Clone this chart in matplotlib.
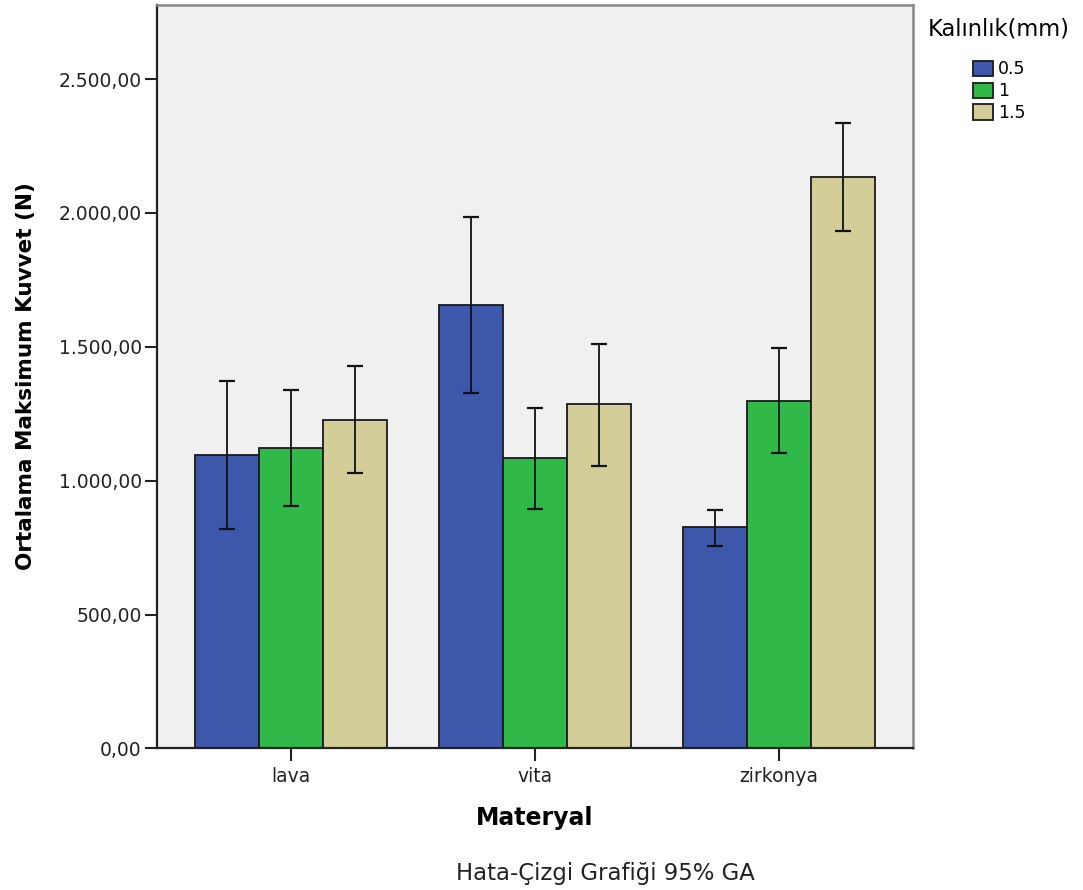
import numpy as np
import matplotlib.pyplot as plt
from matplotlib.ticker import FuncFormatter

# Ortalama maksimum kuvvet (N) ve %95 güven aralıkları
materials = ["lava", "vita", "zirkonya"]
thickness = ["0.5", "1", "1.5"]
means = {
    "0.5": [1096, 1657, 827],
    "1": [1124, 1084, 1299],
    "1.5": [1227, 1286, 2134],
}
ci_low = {
    "0.5": [820, 1328, 756],
    "1": [906, 893, 1103],
    "1.5": [1028, 1055, 1931],
}
ci_high = {
    "0.5": [1372, 1986, 891],
    "1": [1338, 1271, 1496],
    "1.5": [1428, 1511, 2335],
}
colors = {"0.5": "#3d58ab", "1": "#30b848", "1.5": "#d3ce98"}

plt.rcParams['font.family'] = ['DejaVu Sans']

fig = plt.figure(figsize=(10.83, 8.90), dpi=100)
ax = fig.add_axes([0.145, 0.159, 0.698, 0.8358])
ax.set_facecolor("#f0f0f0")

x = np.arange(len(materials))
w = 0.262
for j, t in enumerate(thickness):
    pos = x + (j - 1) * w
    m = np.array(means[t])
    lo = m - np.array(ci_low[t])
    hi = np.array(ci_high[t]) - m
    ax.bar(pos, m, width=w, color=colors[t], edgecolor="#1a1a1a",
           linewidth=1.3, label=t, zorder=2)
    ax.errorbar(pos, m, yerr=[lo, hi], fmt="none", ecolor="#111111",
                elinewidth=1.3, capsize=6, capthick=1.6, zorder=3)

ax.set_xlim(-0.549, 2.549)
ax.set_ylim(0, 2778)
ax.set_yticks(np.arange(0, 2501, 500))
ax.yaxis.set_major_formatter(FuncFormatter(
    lambda v, p: f"{v:,.2f}".replace(",", "X").replace(".", ",").replace("X", ".")))
ax.set_xticks(x)
ax.set_xticklabels(materials)
ax.tick_params(axis="both", direction="out", length=9, width=1.5,
               color="#222222", labelsize=13.5, labelcolor="#222222")
ax.tick_params(axis="y", pad=2)
ax.tick_params(axis="x", pad=4)

for side in ["left", "bottom"]:
    ax.spines[side].set_color("#222222")
    ax.spines[side].set_linewidth(1.6)
for side in ["top", "right"]:
    ax.spines[side].set_color("#888888")
    ax.spines[side].set_linewidth(1.8)

ax.set_ylabel("Ortalama Maksimum Kuvvet (N)", fontsize=15.5,
              fontweight="bold", labelpad=16)
ax.set_xlabel("Materyal", fontsize=17, fontweight="bold", labelpad=15)

leg = ax.legend(title="Kalınlık(mm)", loc="upper left",
                bbox_to_anchor=(928 / 1083, 1 - 18 / 890),
                bbox_transform=fig.transFigure, frameon=False,
                fontsize=12.5, title_fontsize=16.3, handlelength=1.15,
                handleheight=1.0, handletextpad=0.3, labelspacing=0.22,
                borderpad=0, borderaxespad=0)
leg._legend_box.align = "center"
leg._legend_box.sep = 14

fig.text(605 / 1083, 0.0185, "Hata-Çizgi Grafiği 95% GA", ha="center",
         va="center", fontsize=16.4, color="#222222")

fig.savefig("out.png", dpi=100)
